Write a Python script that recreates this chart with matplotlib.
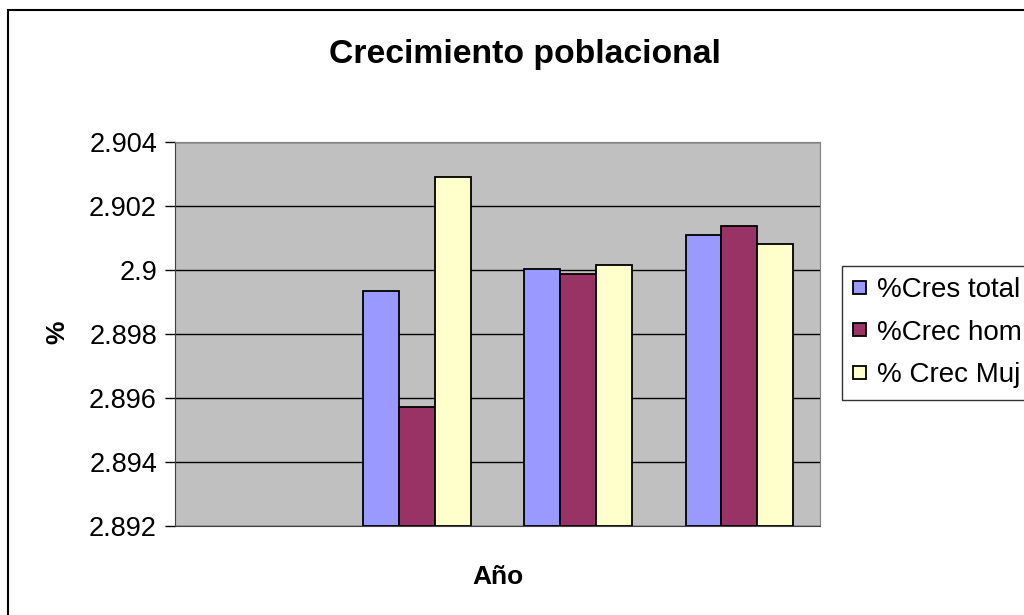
import matplotlib.pyplot as plt
import numpy as np
from matplotlib.patches import Rectangle
from matplotlib.ticker import MultipleLocator, FuncFormatter

plt.rcParams['font.family'] = ['Liberation Sans', 'DejaVu Sans']

# four category slots, the first one has no data
categorias = ['', '', '', '']
cres_total = [np.nan, 2.89934, 2.90002, 2.90109]
crec_hom = [np.nan, 2.89573, 2.89988, 2.90137]
crec_muj = [np.nan, 2.90290, 2.90016, 2.90081]
series = ['%Cres total', '%Crec hom', '% Crec Muj']
colores = ['#9999FF', '#993366', '#FFFFCC']

fig = plt.figure(figsize=(10.24, 6.15), dpi=100)
W, H = 1024, 615
ax = fig.add_axes([175 / W, 1 - 526 / H, (820 - 175) / W, (526 - 142) / H])
ax.set_facecolor('#C0C0C0')

x = np.arange(len(categorias))
width = 0.222
for i, (vals, name, col) in enumerate(zip([cres_total, crec_hom, crec_muj], series, colores)):
    vals = np.array(vals, dtype=float)
    ax.bar(x + (i - 1) * width, vals - 2.892, width, bottom=2.892, color=col,
           edgecolor='black', linewidth=1.3, label=name, zorder=3)

ax.set_xlim(-0.5, len(categorias) - 0.5)
ax.set_ylim(2.892, 2.904)
ax.yaxis.set_major_locator(MultipleLocator(0.002))
ax.yaxis.set_major_formatter(FuncFormatter(lambda v, p: f'{round(v, 3):g}'))
ax.set_xticks([])
ax.grid(axis='y', color='black', linewidth=1, zorder=1)
ax.set_axisbelow(True)
ax.tick_params(axis='y', labelsize=19.5, length=7, width=1, pad=6)

for s in ['top', 'right']:
    ax.spines[s].set_color('#808080')
for s in ['left', 'bottom']:
    ax.spines[s].set_color('#404040')

# axis titles and chart title
fig.text(57 / W, 1 - 332 / H, '%', fontsize=19, fontweight='bold', rotation=90,
         ha='center', va='center')
fig.text(498 / W, 1 - 577 / H, 'Año', fontsize=19, fontweight='bold', ha='center', va='center')
fig.text(525 / W, 1 - 55 / H, 'Crecimiento poblacional', fontsize=24.3, fontweight='bold',
         ha='center', va='center')

# legend runs off the right edge like in the original
leg = fig.legend(loc='upper left', bbox_to_anchor=(842 / W, 1 - 266 / H), fontsize=20,
                 frameon=True, fancybox=False, shadow=False, borderpad=0.4,
                 handlelength=0.45, handleheight=0.36, handletextpad=0.4,
                 labelspacing=0.6, borderaxespad=0)
leg.get_frame().set_edgecolor('black')
leg.get_frame().set_linewidth(1)

# outer chart frame, also runs off the right and bottom edges
fig.patches.append(Rectangle((8 / W, -0.1), 1.2, 1 - 10 / H + 0.1, transform=fig.transFigure,
                             fill=False, edgecolor='black', linewidth=1.5))

fig.savefig('out.png', dpi=100)
